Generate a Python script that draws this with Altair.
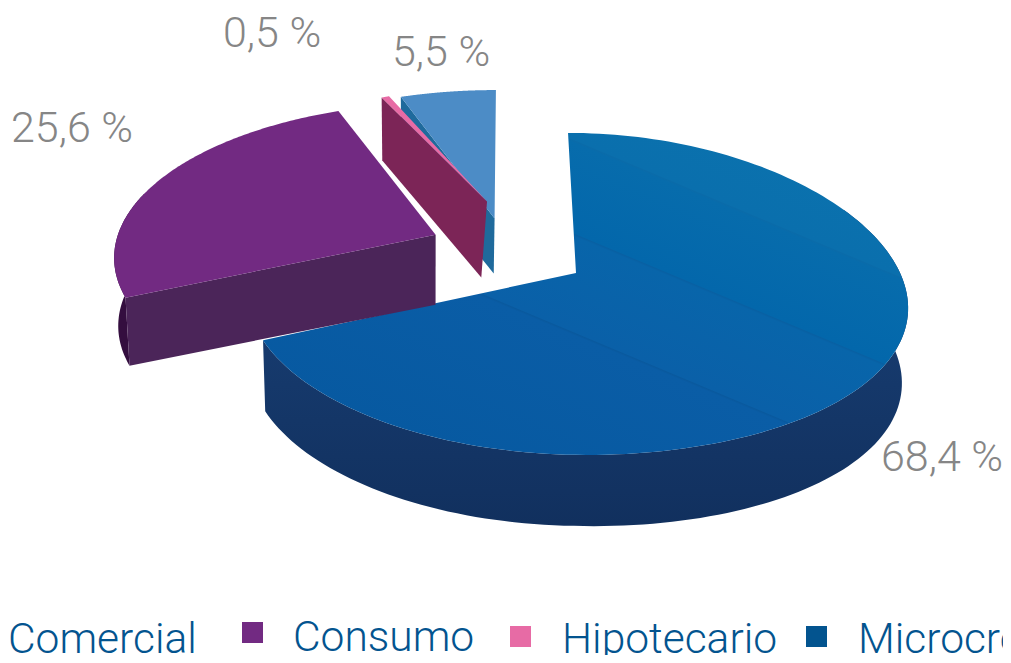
import math
import altair as alt
import pandas as pd

# --- data ---
categories = ["Microcrédito", "Consumo", "Hipotecario", "Comercial"]
shares = [68.4, 25.6, 0.5, 5.5]
legend_order = ["Comercial", "Consumo", "Hipotecario", "Microcrédito"]

# --- projection of the pie's ground plane ---
CX, CY, A, B, K, D, DROOP = 576.0, 273.0, 328.0, 158.3, 0.13, 9.0, 10.0
VX, FB = 430.0, 0.987
N = 160

# explode offset (plane units), rotation (deg), radius factor, apex height, rim height, apex x shift, rim swell
slice_geo = {
    "Microcrédito": (0.0, 0.0, 0.0, 1.0, 71, 71, 0, 4),
    "Consumo": (-0.435, -0.25, 0.0, 1.0, 70, 68, 0, 0),
    "Hipotecario": (-0.275, -0.48, -3.5, 0.9, 76, 63, -5, 0),
    "Comercial": (-0.25, -0.36, 0.0, 1.0, 55, 62, 0, 0),
}


def proj(c, s):
    w = 1 - K * s
    return CX + (A * c + D * s) / w, CY + B * s / w + DROOP * max(c, 0) ** 2


def lower(pt, h, dx=0.0, swell=0.0):
    x, y = pt
    return VX + (x - VX) * FB + dx, y + h + swell * max((x - CX) / 331, 0)


spans = {}
acc = 0.0
total = sum(shares)
for name, v in zip(categories, shares):
    spans[name] = (acc / total * 360, (acc + v) / total * 360)
    acc += v


def rim(name):
    ex, ey, rot, rf, *_ = slice_geo[name]
    t0, t1 = spans[name]
    out = []
    for i in range(N + 1):
        t = math.radians(t0 + rot + (t1 - t0) * i / N)
        out.append(proj(ex + rf * math.sin(t), ey - rf * math.cos(t)))
    return out


def apex(name):
    ex, ey, *_ = slice_geo[name]
    return proj(ex, ey)


X = alt.X("x:Q", scale=alt.Scale(domain=[8, 1003]), axis=None)
Y = alt.Y("y:Q", scale=alt.Scale(domain=[655, 8]), axis=None)


def poly(points, fill, **kw):
    df = pd.DataFrame({"x": [p[0] for p in points], "y": [p[1] for p in points], "i": range(len(points))})
    return (
        alt.Chart(df)
        .mark_line(filled=True, fill=fill, strokeWidth=0, strokeOpacity=0, clip=False, **kw)
        .encode(x=X, y=Y, order=alt.Order("i:Q"))
    )


def vgrad(c0, c1):
    return alt.Gradient(gradient="linear", x1=0, y1=0, x2=0, y2=1,
                        stops=[alt.GradientStop(color=c0, offset=0), alt.GradientStop(color=c1, offset=1)])


def rim_face(name, fill, i0=0, i1=N):
    *_, hr, _, sw = slice_geo[name]
    r = rim(name)[i0:i1 + 1]
    return poly(r + [lower(p, hr, 0, sw) for p in reversed(r)], fill)


def cut_face(name, index, fill):
    *_, ha, hr, dx, sw = slice_geo[name]
    a, e = apex(name), rim(name)[index]
    return poly([a, e, lower(e, hr, 0, sw), lower(a, ha, dx)], fill)


def top_face(name, fill):
    return poly([apex(name)] + rim(name), fill)


main_top = alt.Gradient(
    gradient="linear", x1=0.92, y1=0, x2=0.08, y2=1,
    stops=[
        alt.GradientStop(color="#0b74ae", offset=0),
        alt.GradientStop(color="#0a6fad", offset=0.228),
        alt.GradientStop(color="#0a6ba9", offset=0.23),
        alt.GradientStop(color="#076cac", offset=0.234),
        alt.GradientStop(color="#0367ab", offset=0.398),
        alt.GradientStop(color="#0860a3", offset=0.40),
        alt.GradientStop(color="#0865aa", offset=0.404),
        alt.GradientStop(color="#0a60a8", offset=0.578),
        alt.GradientStop(color="#09599e", offset=0.58),
        alt.GradientStop(color="#0a5da6", offset=0.584),
        alt.GradientStop(color="#06589f", offset=1),
    ],
)

layers = [
    rim_face("Microcrédito", vgrad("#1a4279", "#11305e"), i0=40),
    top_face("Microcrédito", main_top),
    cut_face("Comercial", 0, "#1f6a9c"),
    top_face("Comercial", "#4c8cc6"),
    cut_face("Hipotecario", 0, "#7c2557"),
    top_face("Hipotecario", "#e76ba5"),
    rim_face("Consumo", "#340e3f", i1=70),
    cut_face("Consumo", 0, "#4b2559"),
    top_face("Consumo", "#722a82"),
]

# --- text ---
pct_pos = {"Microcrédito": (881, 471), "Consumo": (11, 142), "Hipotecario": (223, 47), "Comercial": (392, 66)}
pct_df = pd.DataFrame(
    [
        {"t": f"{v:.1f}".replace(".", ",") + " %", "x": pct_pos[n][0], "y": pct_pos[n][1]}
        for n, v in zip(categories, shares)
    ]
)
layers.append(
    alt.Chart(pct_df)
    .mark_text(font="Roboto", fontWeight=300, fontSize=43, color="#868686", align="left", baseline="alphabetic")
    .encode(x=X, y=Y, text="t:N")
)

leg_text_pos = {"Comercial": (8, 653), "Consumo": (293, 651), "Hipotecario": (562, 653), "Microcrédito": (858, 653)}
leg_df = pd.DataFrame([{"t": n, "x": leg_text_pos[n][0], "y": leg_text_pos[n][1]} for n in legend_order])
layers.append(
    alt.Chart(leg_df)
    .mark_text(font="Roboto", fontWeight=300, fontSize=42.5, color="#03548f", align="left", baseline="alphabetic")
    .encode(x=X, y=Y, text="t:N")
)

sw_pos = {"Consumo": (252.5, 632.5, "#722a82"), "Hipotecario": (520.5, 636.5, "#e76ba5"), "Microcrédito": (816.5, 636.5, "#03548f")}
sw_df = pd.DataFrame([{"n": k, "x": v[0], "y": v[1], "c": v[2]} for k, v in sw_pos.items()])
layers.append(
    alt.Chart(sw_df)
    .mark_square(size=441, opacity=1, filled=True, strokeWidth=0)
    .encode(x=X, y=Y, color=alt.Color("c:N", scale=None, legend=None))
)

chart = (
    alt.layer(*layers)
    .properties(width=995, height=647, padding=0, autosize=alt.AutoSizeParams(type="none"))
    .configure_view(strokeWidth=0)
    .resolve_scale(x="shared", y="shared")
)
chart.save("out.html", embed_options={"renderer": "svg", "actions": False})
